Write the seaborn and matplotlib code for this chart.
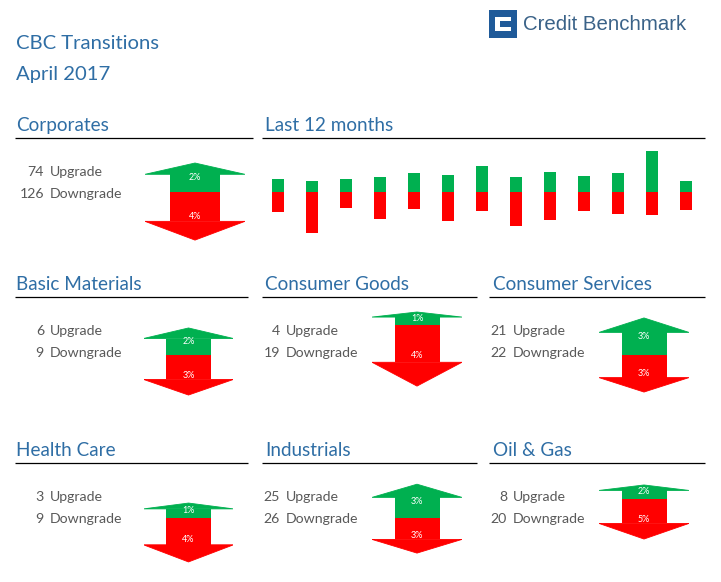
import numpy as np
import pandas as pd
import matplotlib.pyplot as plt
from matplotlib.patches import Polygon, Rectangle
import seaborn as sns

sns.set_theme(style="white")
plt.rcParams["font.family"] = ["Lato", "DejaVu Sans"]

GREEN = "#00b050"
RED = "#ff0000"
BLUE = "#2f6ea5"
GREY = "#595959"

W, H = 721, 582
PX_PER_PCT = 13
HEAD_SHARE = 0.39

# panels
panels = ["Corporates", "Basic Materials", "Consumer Goods", "Consumer Services",
          "Health Care", "Industrials", "Oil & Gas"]
upgrades = [74, 6, 4, 21, 3, 25, 8]
downgrades = [126, 9, 19, 22, 9, 26, 20]
up_rate = [2.23, 2.08, 1.00, 2.85, 1.15, 2.60, 1.08]
down_rate = [3.70, 3.08, 4.70, 2.85, 3.38, 2.70, 3.08]
up_label = ["2%", "2%", "1%", "3%", "1%", "3%", "2%"]
down_label = ["4%", "3%", "4%", "3%", "4%", "3%", "5%"]

# last 12 months
months = ["Apr 16", "May 16", "Jun 16", "Jul 16", "Aug 16", "Sep 16", "Oct 16",
          "Nov 16", "Dec 16", "Jan 17", "Feb 17", "Mar 17", "Apr 17"]
month_up = [1.00, 0.85, 1.00, 1.15, 1.45, 1.30, 2.00, 1.15, 1.55, 1.25, 1.45, 3.15, 0.85]
month_down = [1.55, 3.15, 1.25, 2.10, 1.30, 2.25, 1.45, 2.60, 2.15, 1.45, 1.70, 1.75, 1.40]

# layout in pixels: arrow centre, arrow width, join line, text x, text y
arrow_cx = [195, 188.5, 417, 644, 188.5, 417, 644]
arrow_w = [100, 90, 90, 90, 90, 90, 90]
arrow_y = [192, 355, 325, 355, 518, 518, 499]
text_x = [44, 44, 280, 507, 44, 280, 507]
text_y = [176, 335, 335, 335, 501, 501, 501]

fig = plt.figure(figsize=(W / 100, H / 100), dpi=100)
bg = fig.add_axes([0, 0, 1, 1])
bg.set_xlim(0, W)
bg.set_ylim(H, 0)
bg.axis("off")


def px_axes(left, top, width, height):
    ax = fig.add_axes([left / W, 1 - (top + height) / H, width / W, height / H])
    ax.patch.set_alpha(0)
    return ax


def draw_arrow(i):
    half = 70
    w = arrow_w[i]
    ax = px_axes(arrow_cx[i] - w / 2, arrow_y[i] - half, w, half * 2)
    up, down = up_rate[i], down_rate[i]
    row = pd.DataFrame({"panel": [panels[i]],
                        "up": [up * (1 - HEAD_SHARE)],
                        "down": [-down * (1 - HEAD_SHARE)]})
    sns.barplot(data=row, x="panel", y="up", color=GREEN, saturation=1, width=0.5, linewidth=0, ax=ax)
    sns.barplot(data=row, x="panel", y="down", color=RED, saturation=1, width=0.5, linewidth=0, ax=ax)
    ax.add_patch(Polygon([(-0.5, up * (1 - HEAD_SHARE)), (0.5, up * (1 - HEAD_SHARE)), (0, up)],
                         closed=True, fc=GREEN, ec=GREEN, lw=0.6))
    ax.add_patch(Polygon([(-0.5, -down * (1 - HEAD_SHARE)), (0.5, -down * (1 - HEAD_SHARE)), (0, -down)],
                         closed=True, fc=RED, ec=RED, lw=0.6))
    ax.text(0, up / 2, up_label[i], color="white", fontsize=6.5, ha="center", va="center", zorder=5)
    ax.text(0, -down / 2, down_label[i], color="white", fontsize=6.5, ha="center", va="center", zorder=5)
    ax.set_xlim(-0.5, 0.5)
    ax.set_ylim(-half / PX_PER_PCT, half / PX_PER_PCT)
    ax.axis("off")


def draw_counts(i):
    for y, n, word in [(text_y[i], upgrades[i], "Upgrade"),
                       (text_y[i] + 22, downgrades[i], "Downgrade")]:
        bg.text(text_x[i], y, str(n), color=GREY, fontsize=10.2, ha="right", va="baseline")
        bg.text(text_x[i] + 6, y, word, color=GREY, fontsize=10.2, ha="left", va="baseline")


# titles and logo
bg.text(16, 49, "CBC Transitions", color=BLUE, fontsize=14.6, va="baseline")
bg.text(16, 80, "April 2017", color=BLUE, fontsize=14.6, va="baseline")

bg.add_patch(Rectangle((489, 10), 28, 28, fc="#1f5a99", ec="none"))
bg.add_patch(Polygon([(495, 17), (511, 17), (511, 21), (500, 21), (500, 27), (511, 27), (511, 31), (495, 31)],
                     closed=True, fc="white", ec="none"))
bg.text(523, 30, "Credit Benchmark", color="#3a6288", fontsize=14.7, family="Liberation Sans", va="baseline")

# section headers
headers = [("Corporates", 16, 131, 15, 253), ("Last 12 months", 265, 131, 262, 705),
           ("Basic Materials", 16, 290, 15, 248), ("Consumer Goods", 265, 290, 262, 477),
           ("Consumer Services", 493, 290, 489, 705), ("Health Care", 16, 456, 15, 248),
           ("Industrials", 265, 456, 262, 477), ("Oil & Gas", 493, 456, 489, 705)]
for name, tx, ty, x0, x1 in headers:
    bg.text(tx, ty, name, color=BLUE, fontsize=13.6, va="baseline")
    bg.plot([x0, x1], [ty + 6.5, ty + 6.5], color="black", lw=0.9, solid_capstyle="butt")

for i in range(len(panels)):
    draw_arrow(i)
    draw_counts(i)

# monthly bars
month_df = pd.DataFrame({"month": months, "up": month_up, "down": -np.array(month_down)})
ax_m = px_axes(261, 192 - 50, 442, 100)
sns.barplot(data=month_df, x="month", y="up", color=GREEN, saturation=1, width=0.38, linewidth=0, ax=ax_m)
sns.barplot(data=month_df, x="month", y="down", color=RED, saturation=1, width=0.38, linewidth=0, ax=ax_m)
ax_m.set_xlim(-0.5, len(months) - 0.5)
ax_m.set_ylim(-50 / PX_PER_PCT, 50 / PX_PER_PCT)
ax_m.axis("off")

fig.savefig("out.png", dpi=100)
